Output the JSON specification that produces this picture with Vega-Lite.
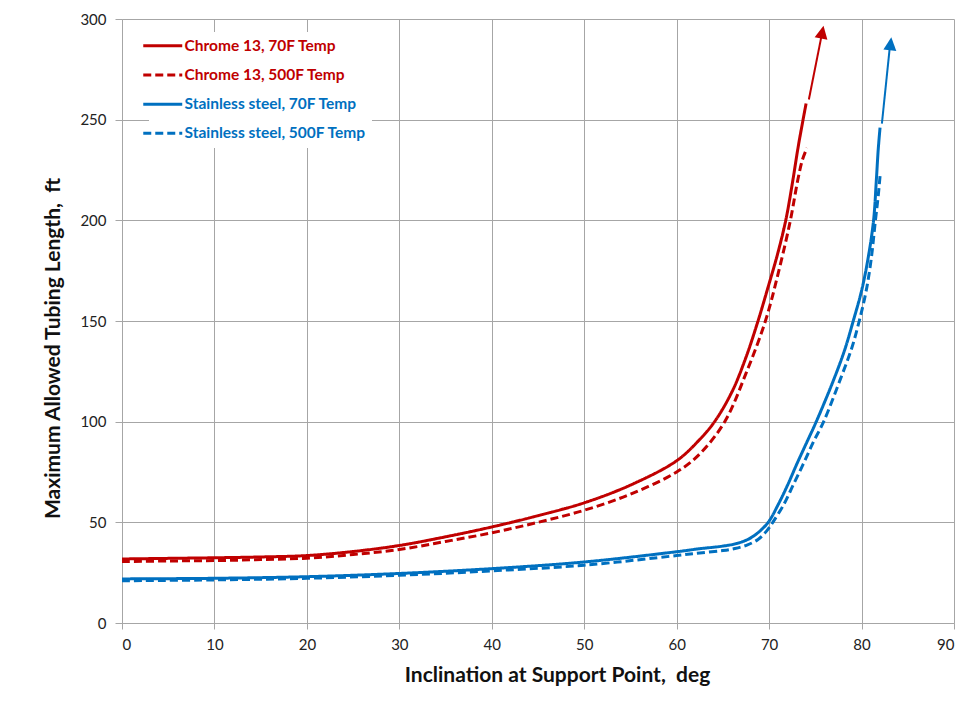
{
  "$schema": "https://vega.github.io/schema/vega-lite/v6.json",
  "width": 832,
  "height": 604,
  "autosize": {"type": "none"},
  "padding": {"left": 122, "top": 19, "right": 14, "bottom": 83},
  "background": "white",
  "config": {
    "view": {"stroke": null},
    "font": "Lato",
    "axis": {
      "gridColor": "#A6A6A6",
      "gridWidth": 1,
      "domainColor": "#A6A6A6",
      "tickColor": "#A6A6A6",
      "labelFont": "Lato",
      "labelFontSize": 15,
      "labelColor": "#222222",
      "titleFont": "Lato",
      "titleFontWeight": "bold",
      "titleColor": "#111111"
    }
  },
  "data": {
    "values": [
      {"series": "Chrome 13, 70F Temp", "part": "curve", "x": 0, "y": 31.8},
      {"series": "Chrome 13, 70F Temp", "part": "curve", "x": 5, "y": 32.1},
      {"series": "Chrome 13, 70F Temp", "part": "curve", "x": 10, "y": 32.4},
      {"series": "Chrome 13, 70F Temp", "part": "curve", "x": 15, "y": 32.8},
      {"series": "Chrome 13, 70F Temp", "part": "curve", "x": 20, "y": 33.5},
      {"series": "Chrome 13, 70F Temp", "part": "curve", "x": 25, "y": 35.5},
      {"series": "Chrome 13, 70F Temp", "part": "curve", "x": 30, "y": 38.5},
      {"series": "Chrome 13, 70F Temp", "part": "curve", "x": 35, "y": 42.8},
      {"series": "Chrome 13, 70F Temp", "part": "curve", "x": 40, "y": 47.7},
      {"series": "Chrome 13, 70F Temp", "part": "curve", "x": 45, "y": 53.3},
      {"series": "Chrome 13, 70F Temp", "part": "curve", "x": 50, "y": 59.7},
      {"series": "Chrome 13, 70F Temp", "part": "curve", "x": 55, "y": 68.5},
      {"series": "Chrome 13, 70F Temp", "part": "curve", "x": 60, "y": 80.6},
      {"series": "Chrome 13, 70F Temp", "part": "curve", "x": 62.5, "y": 91.2},
      {"series": "Chrome 13, 70F Temp", "part": "curve", "x": 64.1, "y": 100},
      {"series": "Chrome 13, 70F Temp", "part": "curve", "x": 66, "y": 115},
      {"series": "Chrome 13, 70F Temp", "part": "curve", "x": 67.5, "y": 132},
      {"series": "Chrome 13, 70F Temp", "part": "curve", "x": 68.8, "y": 150},
      {"series": "Chrome 13, 70F Temp", "part": "curve", "x": 69.9, "y": 167},
      {"series": "Chrome 13, 70F Temp", "part": "curve", "x": 70.9, "y": 183},
      {"series": "Chrome 13, 70F Temp", "part": "curve", "x": 71.8, "y": 200},
      {"series": "Chrome 13, 70F Temp", "part": "curve", "x": 72.5, "y": 218},
      {"series": "Chrome 13, 70F Temp", "part": "curve", "x": 73.2, "y": 238},
      {"series": "Chrome 13, 70F Temp", "part": "curve", "x": 74, "y": 258},
      {"series": "Chrome 13, 500F Temp", "part": "curve", "x": 0, "y": 30.5},
      {"series": "Chrome 13, 500F Temp", "part": "curve", "x": 5, "y": 30.8},
      {"series": "Chrome 13, 500F Temp", "part": "curve", "x": 10, "y": 31},
      {"series": "Chrome 13, 500F Temp", "part": "curve", "x": 15, "y": 31.5},
      {"series": "Chrome 13, 500F Temp", "part": "curve", "x": 20, "y": 32.2},
      {"series": "Chrome 13, 500F Temp", "part": "curve", "x": 25, "y": 34},
      {"series": "Chrome 13, 500F Temp", "part": "curve", "x": 30, "y": 36.5},
      {"series": "Chrome 13, 500F Temp", "part": "curve", "x": 35, "y": 40.5},
      {"series": "Chrome 13, 500F Temp", "part": "curve", "x": 40, "y": 44.8},
      {"series": "Chrome 13, 500F Temp", "part": "curve", "x": 45, "y": 50},
      {"series": "Chrome 13, 500F Temp", "part": "curve", "x": 50, "y": 56},
      {"series": "Chrome 13, 500F Temp", "part": "curve", "x": 55, "y": 64},
      {"series": "Chrome 13, 500F Temp", "part": "curve", "x": 60, "y": 75},
      {"series": "Chrome 13, 500F Temp", "part": "curve", "x": 62.5, "y": 84},
      {"series": "Chrome 13, 500F Temp", "part": "curve", "x": 65.2, "y": 100},
      {"series": "Chrome 13, 500F Temp", "part": "curve", "x": 67.5, "y": 124},
      {"series": "Chrome 13, 500F Temp", "part": "curve", "x": 69.6, "y": 150},
      {"series": "Chrome 13, 500F Temp", "part": "curve", "x": 71, "y": 174},
      {"series": "Chrome 13, 500F Temp", "part": "curve", "x": 72.3, "y": 200},
      {"series": "Chrome 13, 500F Temp", "part": "curve", "x": 73.1, "y": 220},
      {"series": "Chrome 13, 500F Temp", "part": "curve", "x": 73.6, "y": 230},
      {"series": "Chrome 13, 500F Temp", "part": "curve", "x": 74.1, "y": 236},
      {"series": "Stainless steel, 70F Temp", "part": "curve", "x": 0, "y": 21.9},
      {"series": "Stainless steel, 70F Temp", "part": "curve", "x": 10, "y": 22.2},
      {"series": "Stainless steel, 70F Temp", "part": "curve", "x": 20, "y": 23},
      {"series": "Stainless steel, 70F Temp", "part": "curve", "x": 30, "y": 24.6},
      {"series": "Stainless steel, 70F Temp", "part": "curve", "x": 40, "y": 27},
      {"series": "Stainless steel, 70F Temp", "part": "curve", "x": 50, "y": 30.3},
      {"series": "Stainless steel, 70F Temp", "part": "curve", "x": 60, "y": 35.4},
      {"series": "Stainless steel, 70F Temp", "part": "curve", "x": 62.5, "y": 36.9},
      {"series": "Stainless steel, 70F Temp", "part": "curve", "x": 65, "y": 38.2},
      {"series": "Stainless steel, 70F Temp", "part": "curve", "x": 66.5, "y": 39.5},
      {"series": "Stainless steel, 70F Temp", "part": "curve", "x": 67.7, "y": 41.5},
      {"series": "Stainless steel, 70F Temp", "part": "curve", "x": 68.7, "y": 44.5},
      {"series": "Stainless steel, 70F Temp", "part": "curve", "x": 69.9, "y": 50},
      {"series": "Stainless steel, 70F Temp", "part": "curve", "x": 71, "y": 59},
      {"series": "Stainless steel, 70F Temp", "part": "curve", "x": 72, "y": 68.5},
      {"series": "Stainless steel, 70F Temp", "part": "curve", "x": 73, "y": 79},
      {"series": "Stainless steel, 70F Temp", "part": "curve", "x": 74.1, "y": 90},
      {"series": "Stainless steel, 70F Temp", "part": "curve", "x": 75.1, "y": 100},
      {"series": "Stainless steel, 70F Temp", "part": "curve", "x": 77, "y": 121},
      {"series": "Stainless steel, 70F Temp", "part": "curve", "x": 78.2, "y": 136},
      {"series": "Stainless steel, 70F Temp", "part": "curve", "x": 79.1, "y": 150},
      {"series": "Stainless steel, 70F Temp", "part": "curve", "x": 80, "y": 165},
      {"series": "Stainless steel, 70F Temp", "part": "curve", "x": 80.7, "y": 181},
      {"series": "Stainless steel, 70F Temp", "part": "curve", "x": 81.3, "y": 200},
      {"series": "Stainless steel, 70F Temp", "part": "curve", "x": 81.6, "y": 220},
      {"series": "Stainless steel, 70F Temp", "part": "curve", "x": 81.8, "y": 235},
      {"series": "Stainless steel, 70F Temp", "part": "curve", "x": 82, "y": 246},
      {"series": "Stainless steel, 500F Temp", "part": "curve", "x": 0, "y": 21},
      {"series": "Stainless steel, 500F Temp", "part": "curve", "x": 10, "y": 21.4},
      {"series": "Stainless steel, 500F Temp", "part": "curve", "x": 20, "y": 22.2},
      {"series": "Stainless steel, 500F Temp", "part": "curve", "x": 30, "y": 23.7},
      {"series": "Stainless steel, 500F Temp", "part": "curve", "x": 40, "y": 25.9},
      {"series": "Stainless steel, 500F Temp", "part": "curve", "x": 50, "y": 28.7},
      {"series": "Stainless steel, 500F Temp", "part": "curve", "x": 60, "y": 33.5},
      {"series": "Stainless steel, 500F Temp", "part": "curve", "x": 62.5, "y": 34.8},
      {"series": "Stainless steel, 500F Temp", "part": "curve", "x": 65, "y": 36},
      {"series": "Stainless steel, 500F Temp", "part": "curve", "x": 66.3, "y": 37},
      {"series": "Stainless steel, 500F Temp", "part": "curve", "x": 67.6, "y": 38.7},
      {"series": "Stainless steel, 500F Temp", "part": "curve", "x": 68.8, "y": 41.5},
      {"series": "Stainless steel, 500F Temp", "part": "curve", "x": 69.7, "y": 45.5},
      {"series": "Stainless steel, 500F Temp", "part": "curve", "x": 70.4, "y": 50},
      {"series": "Stainless steel, 500F Temp", "part": "curve", "x": 71.6, "y": 59},
      {"series": "Stainless steel, 500F Temp", "part": "curve", "x": 72.6, "y": 68.5},
      {"series": "Stainless steel, 500F Temp", "part": "curve", "x": 73.7, "y": 79},
      {"series": "Stainless steel, 500F Temp", "part": "curve", "x": 74.8, "y": 90},
      {"series": "Stainless steel, 500F Temp", "part": "curve", "x": 75.9, "y": 100},
      {"series": "Stainless steel, 500F Temp", "part": "curve", "x": 77.7, "y": 121},
      {"series": "Stainless steel, 500F Temp", "part": "curve", "x": 78.9, "y": 136},
      {"series": "Stainless steel, 500F Temp", "part": "curve", "x": 79.75, "y": 150},
      {"series": "Stainless steel, 500F Temp", "part": "curve", "x": 80.5, "y": 165},
      {"series": "Stainless steel, 500F Temp", "part": "curve", "x": 81.05, "y": 181},
      {"series": "Stainless steel, 500F Temp", "part": "curve", "x": 81.5, "y": 200},
      {"series": "Stainless steel, 500F Temp", "part": "curve", "x": 81.8, "y": 212},
      {"series": "Stainless steel, 500F Temp", "part": "curve", "x": 82, "y": 222},
      {"series": "Chrome 13, 70F Temp", "part": "shaft", "x": 74.3, "y": 260},
      {"series": "Chrome 13, 70F Temp", "part": "shaft", "x": 75.75, "y": 293.5},
      {"series": "Stainless steel, 70F Temp", "part": "shaft", "x": 82.2, "y": 248},
      {"series": "Stainless steel, 70F Temp", "part": "shaft", "x": 83.1, "y": 288},
      {"series": "Chrome 13, 70F Temp", "part": "head", "x": 75.75, "y": 293.5},
      {"series": "Stainless steel, 70F Temp", "part": "head", "x": 83.14, "y": 287.7}
    ]
  },
  "encoding": {
    "x": {
      "field": "x", "type": "quantitative",
      "scale": {"domain": [0, 90], "nice": false},
      "axis": {
        "values": [0, 10, 20, 30, 40, 50, 60, 70, 80, 90],
        "title": "Inclination at Support Point,\u00a0 deg",
        "titleFontSize": 21,
        "titleX": 435, "titleY": 58, "titleBaseline": "alphabetic", "titleAnchor": "middle", "titleAlign": "center",
        "tickSize": 6, "labelPadding": 8
      }
    },
    "y": {
      "field": "y", "type": "quantitative",
      "scale": {"domain": [0, 300], "nice": false},
      "axis": {
        "values": [0, 50, 100, 150, 200, 250, 300],
        "title": "Maximum Allowed Tubing Length,\u00a0 ft",
        "titleFontSize": 21,
        "titleX": -69, "titleY": 329, "titleAngle": 270, "titleBaseline": "middle", "titleAlign": "center",
        "tickSize": 7, "labelPadding": 9
      }
    }
  },
  "layer": [
    {
      "transform": [{"filter": "datum.part == 'curve'"}],
      "mark": {"type": "line", "strokeWidth": 3, "interpolate": "catmull-rom"},
      "encoding": {
        "color": {
          "field": "series", "type": "nominal",
          "scale": {
            "domain": ["Chrome 13, 70F Temp", "Chrome 13, 500F Temp", "Stainless steel, 70F Temp", "Stainless steel, 500F Temp"],
            "range": ["#C00000", "#C00000", "#0070C0", "#0070C0"]
          },
          "legend": {
            "title": null,
            "orient": "none",
            "legendX": 27, "legendY": 13,
            "fillColor": "white",
            "padding": 6,
            "symbolType": "M-4,0H4",
            "symbolSize": 95,
            "symbolStrokeWidth": 3,
            "labelFont": "Lato",
            "labelFontSize": 15.5,
            "labelFontWeight": "bold",
            "labelOffset": 14,
            "labelLimit": 400,
            "rowPadding": 12.2,
            "encode": {"labels": {"update": {"fill": {"signal": "indexof(datum.label, 'Chrome') >= 0 ? '#C00000' : '#0070C0'"}}}}
          }
        },
        "strokeDash": {
          "field": "series", "type": "nominal",
          "scale": {
            "domain": ["Chrome 13, 70F Temp", "Chrome 13, 500F Temp", "Stainless steel, 70F Temp", "Stainless steel, 500F Temp"],
            "range": [[1, 0], [8, 4], [1, 0], [8, 4]]
          },
          "legend": {
            "title": null,
            "orient": "none",
            "legendX": 27, "legendY": 13,
            "fillColor": "white",
            "padding": 6,
            "symbolType": "M-4,0H4",
            "symbolSize": 95,
            "symbolStrokeWidth": 3,
            "labelFont": "Lato",
            "labelFontSize": 15.5,
            "labelFontWeight": "bold",
            "labelOffset": 14,
            "labelLimit": 400,
            "rowPadding": 12.2,
            "encode": {"labels": {"update": {"fill": {"signal": "indexof(datum.label, 'Chrome') >= 0 ? '#C00000' : '#0070C0'"}}}}
          }
        }
      }
    },
    {
      "transform": [{"filter": "datum.part == 'shaft' && indexof(datum.series, 'Chrome') >= 0"}],
      "mark": {"type": "line", "strokeWidth": 2, "color": "#C00000"},
      "encoding": {}
    },
    {
      "transform": [{"filter": "datum.part == 'shaft' && indexof(datum.series, 'Stainless') >= 0"}],
      "mark": {"type": "line", "strokeWidth": 2, "color": "#0070C0"},
      "encoding": {}
    },
    {
      "transform": [{"filter": "datum.part == 'head' && indexof(datum.series, 'Chrome') >= 0"}],
      "mark": {"type": "point", "shape": "M0,-0.5L0.5,0.5L-0.5,0.5Z", "size": 676, "filled": true, "opacity": 1, "color": "#C00000", "angle": 11},
      "encoding": {}
    },
    {
      "transform": [{"filter": "datum.part == 'head' && indexof(datum.series, 'Stainless') >= 0"}],
      "mark": {"type": "point", "shape": "M0,-0.5L0.5,0.5L-0.5,0.5Z", "size": 676, "filled": true, "opacity": 1, "color": "#0070C0", "angle": 6.4},
      "encoding": {}
    }
  ]
}
